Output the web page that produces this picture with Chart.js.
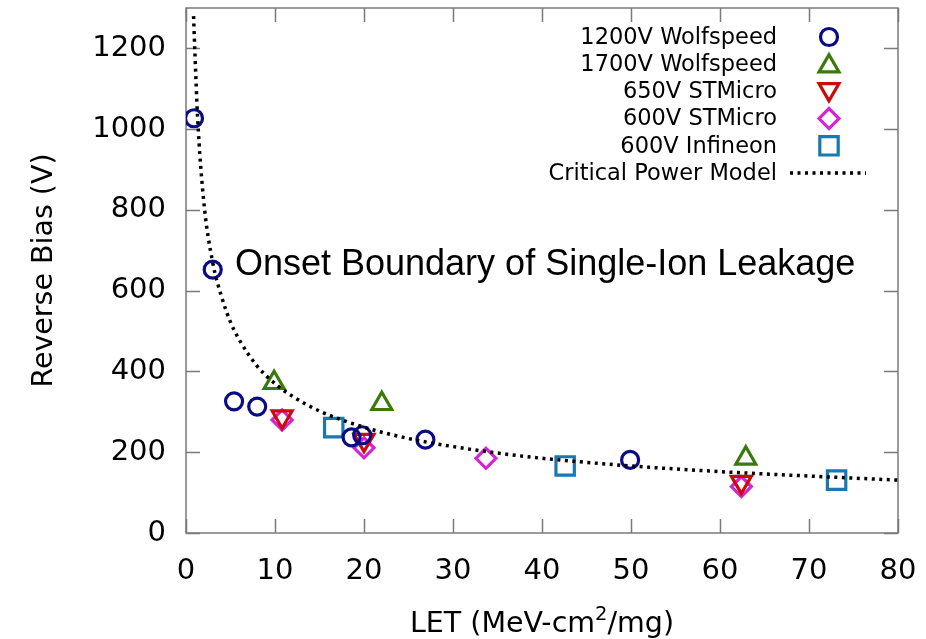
<!DOCTYPE html>
<html><head><meta charset="utf-8">
<script src="https://cdn.jsdelivr.net/npm/chart.js@4/dist/chart.umd.min.js"></script>
<style>html,body{margin:0;padding:0;background:#fff;overflow:hidden}</style>
</head><body>
<canvas id="c" width="926" height="639"></canvas>
<script>
// ---- data ----
const xTicks = [0, 10, 20, 30, 40, 50, 60, 70, 80];
const yTicks = [0, 200, 400, 600, 800, 1000, 1200];
const seriesNames = ['1200V Wolfspeed', '1700V Wolfspeed', '650V STMicro', '600V STMicro', '600V Infineon', 'Critical Power Model'];
const wolf1200LET = [0.9, 3.0, 5.4, 8.0, 18.6, 19.8, 26.9, 49.9];
const wolf1200V   = [1027, 652, 326, 313, 237, 242, 231, 181];
const wolf1700LET = [9.9, 22.0, 62.9];
const wolf1700V   = [372, 320, 185];
const st650LET = [10.8, 20.0, 62.4];
const st650V   = [288, 230, 126];
const st600LET = [10.8, 20.0, 33.7, 62.4];
const st600V   = [280, 211, 185, 115];
const inf600LET = [16.6, 42.6, 73.1];
const inf600V   = [261, 166, 131];
const modelLET = [0.85, 1, 1.3, 2, 3, 4, 5, 6, 8, 10, 12, 15, 20, 25, 30, 35, 40, 50, 60, 70, 80];
const modelV   = [1280, 1190, 1030, 820, 670, 585, 522, 478, 413, 370, 338, 302, 262, 234, 214, 198, 185, 166, 152, 141, 131];
const annotationText = 'Onset Boundary of Single-Ion Leakage';
const xTitleParts = ['LET (MeV-cm', '2', '/mg)'];
const yTitle = 'Reverse Bias (V)';

const pts = (xs, ys) => xs.map((x, i) => ({ x: x, y: ys[i] }));

const FONT = '"DejaVu Sans", sans-serif';
const AXIS_COLOR = '#7a7a7a';

function markerDs(label, xs, ys, color, style, radius, rotation) {
  return {
    label: label, data: pts(xs, ys), order: 1,
    pointStyle: style, pointRadius: radius, pointHoverRadius: radius,
    pointRotation: rotation || 0,
    pointBorderColor: color, borderColor: color,
    pointBackgroundColor: 'rgba(0,0,0,0)', backgroundColor: 'rgba(0,0,0,0)',
    pointBorderWidth: 3.2, showLine: false
  };
}

const datasets = [
  markerDs(seriesNames[0], wolf1200LET, wolf1200V, '#0b0b85', 'circle', 8.5),
  markerDs(seriesNames[1], wolf1700LET, wolf1700V, '#3a7a08', 'triangle', 11.5),
  markerDs(seriesNames[2], st650LET, st650V, '#cc0a0a', 'triangle', 11.5, 180),
  markerDs(seriesNames[3], st600LET, st600V, '#d424d4', 'rectRot', 10),
  markerDs(seriesNames[4], inf600LET, inf600V, '#1a78b0', 'rect', 13),
  {
    label: seriesNames[5], data: pts(modelLET, modelV), order: 0,
    showLine: true, pointRadius: 0, pointHoverRadius: 0,
    borderColor: '#000', backgroundColor: '#000', borderWidth: 3.5,
    borderDash: [3, 4.5], borderCapStyle: 'butt',
    cubicInterpolationMode: 'monotone', fill: false
  }
];

const decorPlugin = {
  id: 'decor',
  beforeDatasetsDraw(chart) {
    const ctx = chart.ctx, a = chart.chartArea;
    const xs = chart.scales.x, ys = chart.scales.y;
    ctx.save();
    ctx.strokeStyle = AXIS_COLOR;
    ctx.lineWidth = 1.5;
    ctx.strokeRect(a.left, a.top, a.right - a.left, a.bottom - a.top);
    const TL = 14;
    ctx.beginPath();
    xTicks.forEach(v => {
      const px = Math.round(xs.getPixelForValue(v)) + 0.5;
      ctx.moveTo(px, a.bottom); ctx.lineTo(px, a.bottom - TL);
      ctx.moveTo(px, a.top); ctx.lineTo(px, a.top + TL);
    });
    yTicks.forEach(v => {
      const py = Math.round(ys.getPixelForValue(v)) + 0.5;
      ctx.moveTo(a.left, py); ctx.lineTo(a.left + TL, py);
      ctx.moveTo(a.right, py); ctx.lineTo(a.right - TL, py);
    });
    ctx.stroke();
    ctx.restore();
  },
  afterDraw(chart) {
    const ctx = chart.ctx, a = chart.chartArea;
    const xs = chart.scales.x, ys = chart.scales.y;
    ctx.save();
    ctx.fillStyle = '#000';
    // annotation (anchored in data coordinates)
    ctx.font = '36px "Liberation Sans", Arial, sans-serif';
    ctx.textAlign = 'left'; ctx.textBaseline = 'alphabetic';
    ctx.fillText(annotationText, xs.getPixelForValue(5.5), ys.getPixelForValue(639));

    // x title with superscript
    const big = '28.5px ' + FONT, small = '19.5px ' + FONT;
    ctx.font = big; const w1 = ctx.measureText(xTitleParts[0]).width;
    const w3 = ctx.measureText(xTitleParts[2]).width;
    ctx.font = small; const w2 = ctx.measureText(xTitleParts[1]).width;
    const total = w1 + w2 + w3;
    let x0 = (a.left + a.right) / 2 - total / 2;
    const base = 632;
    ctx.textAlign = 'left';
    ctx.font = big; ctx.fillText(xTitleParts[0], x0, base);
    ctx.font = small; ctx.fillText(xTitleParts[1], x0 + w1, base - 12);
    ctx.font = big; ctx.fillText(xTitleParts[2], x0 + w1 + w2, base);

    // y title
    ctx.save();
    ctx.translate(52, (a.top + a.bottom) / 2);
    ctx.rotate(-Math.PI / 2);
    ctx.font = big; ctx.textAlign = 'center';
    ctx.fillText(yTitle, 0, 0);
    ctx.restore();

    // legend (inside the plot, text right-aligned, sample on the right)
    const textRight = 777, markX = 829, rowY0 = 37, rowH = 27.2;
    ctx.font = '22.5px ' + FONT;
    chart.data.datasets.forEach((ds, i) => {
      const y = rowY0 + i * rowH;
      ctx.fillStyle = '#000';
      ctx.textAlign = 'right'; ctx.textBaseline = 'middle';
      ctx.fillText(ds.label, textRight, y + 1);
      if (ds.showLine) {
        ctx.save();
        ctx.strokeStyle = ds.borderColor; ctx.lineWidth = ds.borderWidth;
        ctx.setLineDash(ds.borderDash);
        ctx.beginPath(); ctx.moveTo(790, y); ctx.lineTo(866, y); ctx.stroke();
        ctx.restore();
      } else {
        ctx.save();
        ctx.strokeStyle = ds.pointBorderColor; ctx.fillStyle = 'rgba(0,0,0,0)';
        ctx.lineWidth = ds.pointBorderWidth;
        Chart.helpers.drawPoint(ctx, {
          pointStyle: ds.pointStyle, rotation: ds.pointRotation,
          radius: ds.pointRadius, borderWidth: ds.pointBorderWidth
        }, markX, y + (ds.pointStyle === 'triangle' ? (ds.pointRotation ? -2 : 2) : 0));
        ctx.restore();
      }
    });
    ctx.restore();
  }
};

const zeroPad = s => { s.paddingTop = 0; s.paddingBottom = 0; s.paddingLeft = 0; s.paddingRight = 0; };

new Chart(document.getElementById('c'), {
  type: 'scatter',
  data: { datasets: datasets },
  options: {
    responsive: false, animation: false, devicePixelRatio: 1,
    layout: { autoPadding: false, padding: { left: 0, right: 28, top: 8, bottom: 0 } },
    plugins: { legend: { display: false }, tooltip: { enabled: false } },
    scales: {
      x: {
        type: 'linear', min: 0, max: 80,
        afterBuildTicks: s => { s.ticks = xTicks.map(v => ({ value: v })); },
        afterFit: s => { s.height = 106; zeroPad(s); },
        ticks: { font: { family: 'DejaVu Sans', size: 29 }, color: '#000', padding: 21, maxRotation: 0, autoSkip: false, callback: v => String(v) },
        grid: { display: false, drawTicks: false },
        border: { display: false }
      },
      y: {
        type: 'linear', min: 0, max: 1300,
        afterBuildTicks: s => { s.ticks = yTicks.map(v => ({ value: v })); },
        afterFit: s => { s.width = 186; zeroPad(s); },
        ticks: { font: { family: 'DejaVu Sans', size: 29 }, color: '#000', padding: 20, autoSkip: false, callback: v => String(v) },
        grid: { display: false, drawTicks: false },
        border: { display: false }
      }
    }
  },
  plugins: [decorPlugin]
});
</script>
</body></html>
